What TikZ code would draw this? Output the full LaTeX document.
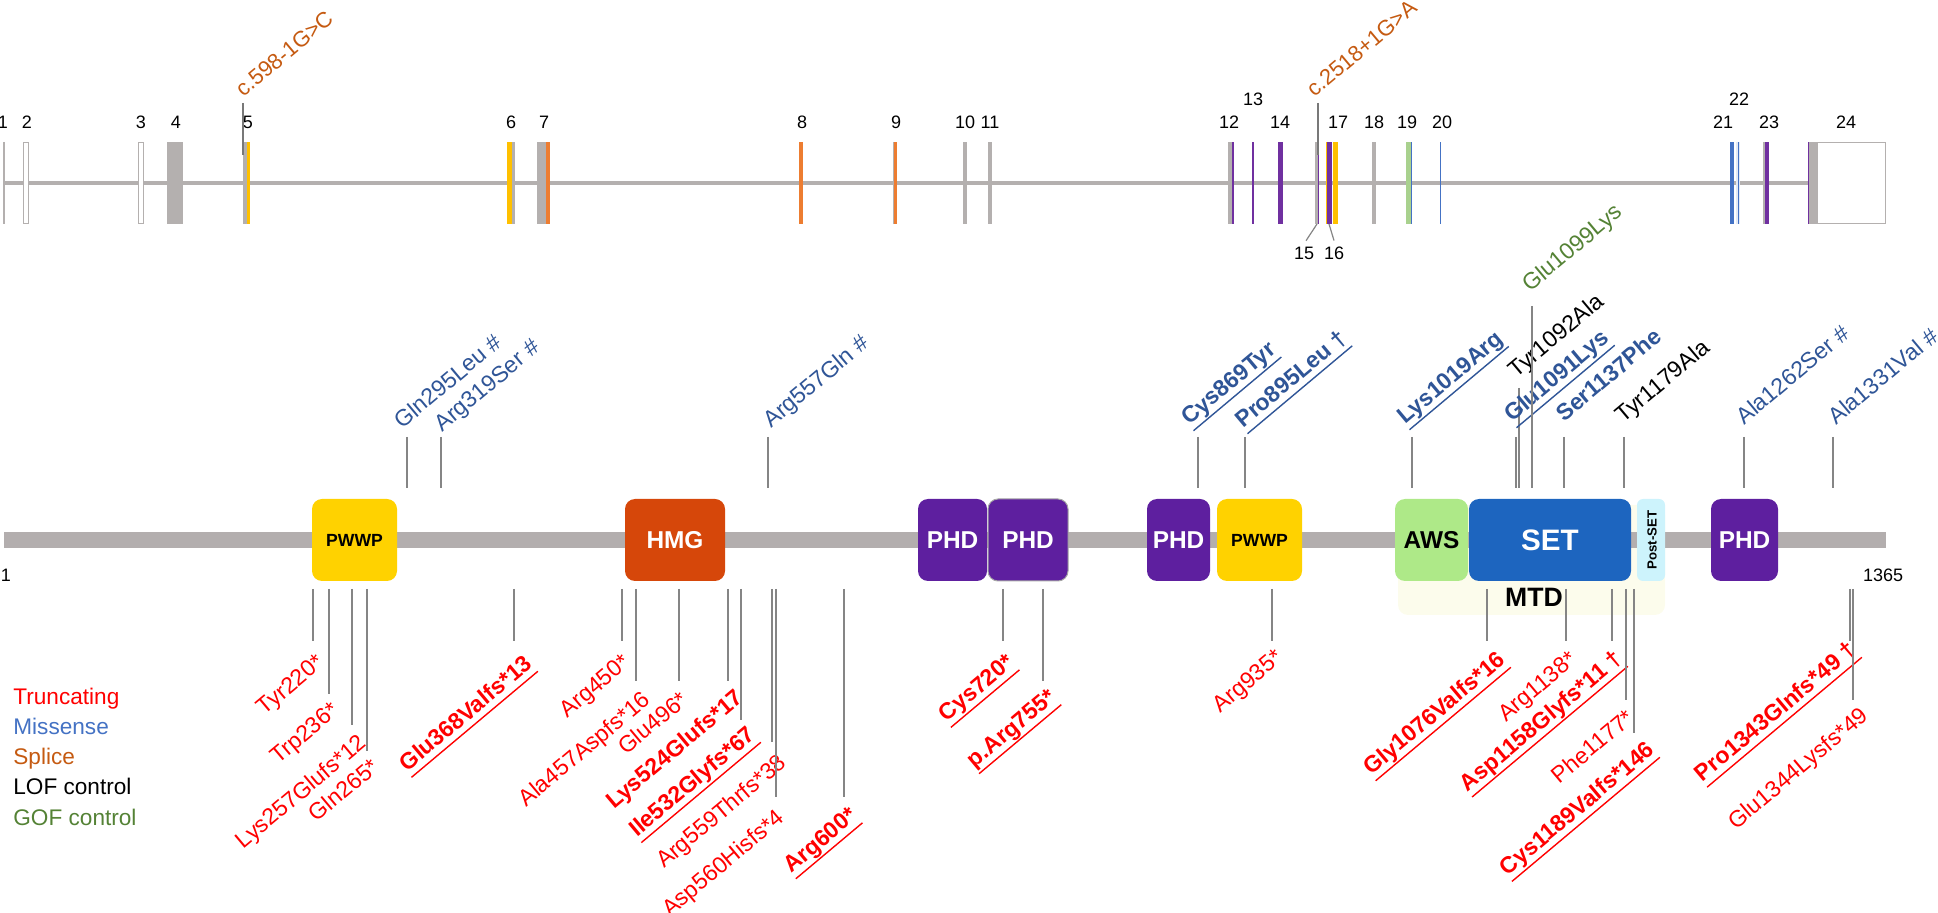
\documentclass[tikz,border=0pt]{standalone}
\usepackage{fontspec}
\setmainfont{Liberation Sans}
\definecolor{mred}{HTML}{FF0000}
\definecolor{tblue}{HTML}{2F5597}
\definecolor{lblue}{HTML}{4472C4}
\definecolor{splc}{HTML}{C55A11}
\definecolor{gofc}{HTML}{548235}
\definecolor{gline}{HTML}{B4B0AF}
\definecolor{pline}{HTML}{B3AEAE}
\definecolor{connc}{HTML}{858585}
\definecolor{pwwpc}{HTML}{FFD200}
\definecolor{hmgc}{HTML}{D6470A}
\definecolor{phdc}{HTML}{5E1F9F}
\definecolor{awsc}{HTML}{AEE988}
\definecolor{setc}{HTML}{1D65BF}
\definecolor{postc}{HTML}{CDF3FC}
\definecolor{mtdc}{HTML}{FCFCEC}
\definecolor{exyel}{HTML}{FFC000}
\definecolor{exora}{HTML}{ED7D31}
\definecolor{expur}{HTML}{7030A0}
\definecolor{exgrn}{HTML}{A9D18E}
\definecolor{exblu}{HTML}{4472C4}
\newcommand\exr[3]{\fill[#3] (#1,142) rectangle (#2,224);}
\newcommand\myul[1]{\setbox0=\hbox{#1}\rlap{\rule[-3.6pt]{\wd0}{0.7pt}}\box0}
\newcommand\botmut[7]{%
  \coordinate (#1a) at (#2,589);
  \coordinate (#1b) at (#2,#3);
  \draw[conn] (#1a) -- (#1b);
  \node[botlab,#6] (#1) at (#4,#5) {#7};}
\newcommand\topmut[7]{%
  \coordinate (#1a) at (#2,#3);
  \coordinate (#1b) at (#2,488);
  \draw[conn] (#1a) -- (#1b);
  \node[toplab,#6] (#1) at ([shift={(6,1)}]#4,#5) {#7};}
\begin{document}
\begin{tikzpicture}[x=0.5pt,y=-0.5pt,
  conn/.style={draw=connc, line width=0.9pt},
  lab/.style={font=\fontsize{11.5}{13}\selectfont},
  boldlab/.style={font=\fontsize{11.5}{13}\selectfont\bfseries},
  botlab/.style={lab, rotate=40, anchor=north east, inner sep=0pt, text=mred},
  toplab/.style={lab, rotate=40, anchor=base west, inner sep=0pt, text=tblue},
  dom/.style={rounded corners=5pt, minimum height=41pt, inner sep=0pt, font=\fontsize{12.2}{14}\selectfont\bfseries, text=white},
  exlab/.style={anchor=base, inner sep=0pt, font=\fontsize{9}{10}\selectfont},
  leg/.style={anchor=base west, inner sep=0pt, font=\fontsize{11.3}{13}\selectfont}
]
\useasboundingbox (0,0) rectangle (1938,913);

% ---------------- gene track ----------------
\coordinate (gs) at (4,183);
\coordinate (ge) at (1808,183);
\draw[gline, line width=1.6pt] (gs) -- (ge);
\draw[gline, line width=1pt] (4,142) -- (4,224);
\draw[gline, line width=0.9pt, fill=white] (23.5,142.5) rectangle (28.5,223.5);
\draw[gline, line width=0.9pt, fill=white] (138.5,142.5) rectangle (143.5,223.5);
\exr{167}{183}{gline}
\exr{243}{247}{gline}\exr{247}{250}{exyel}
\exr{507}{512}{exyel}\exr{512}{514.5}{gline}
\exr{537}{546}{gline}\exr{546}{549.5}{exora}
\exr{799}{803}{exora}
\exr{892.5}{894}{gline}\exr{894}{897}{exora}
\exr{963}{967}{gline}
\exr{988}{992}{gline}
\exr{1228}{1232}{gline}\exr{1232}{1233.5}{expur}
\exr{1252}{1253.5}{expur}
\exr{1278}{1283}{expur}
\exr{1315}{1318}{gline}\fill[expur] (1318,155) rectangle (1319.2,224);
\exr{1326}{1327.2}{exyel}\exr{1327.2}{1332}{expur}
\exr{1333}{1338}{exyel}
\exr{1372}{1376}{gline}
\exr{1406}{1411}{exgrn}\exr{1411}{1412.2}{exblu}
\exr{1440}{1441.2}{exblu}
\exr{1730}{1734}{exblu}\exr{1736}{1740}{exblu!15}\exr{1737.5}{1738.7}{exblu}
\exr{1763}{1765}{gline}\exr{1765}{1769}{expur}
\draw[gline, line width=0.9pt, fill=white] (1817,142.5) rectangle (1885.5,223.5);
\exr{1808}{1817}{gline}\exr{1808}{1809.2}{expur}

% exon numbers
\foreach \n/\x in {1/3,2/27,3/141,4/176,5/248,6/511,7/544,8/802,9/896,10/965,11/990,12/1229,14/1280,17/1338,18/1374,19/1407,20/1442,21/1723,23/1769,24/1846}
  \node[exlab] (ex\n) at (\x,128.5) {\n};
\node[exlab] (ex13) at (1253,105.5) {13};
\node[exlab] (ex22) at (1739,105.5) {22};
\node[exlab] (ex15) at (1304,259.5) {15};
\node[exlab] (ex16) at (1334,259.5) {16};
\coordinate (e15) at (1317,224);
\coordinate (e16) at (1329,224);
\draw[connc, line width=0.6pt] (ex15.north) ++(2,-6) -- (e15);
\draw[connc, line width=0.6pt] (ex16.north) ++(0,-6) -- (e16);

% splice markers
\coordinate (sp1t) at (243,103); \coordinate (sp1b) at (243,155);
\draw[draw=connc!90!black, line width=1pt] (sp1t) -- (sp1b);
\node[font=\fontsize{11}{13}\selectfont, rotate=40, anchor=base west, inner sep=0pt, text=splc] (sp1) at (243,98) {c.598-1G>C};
\coordinate (sp2t) at (1318,103); \coordinate (sp2b) at (1318,155);
\draw[draw=connc!90!black, line width=1pt] (sp2t) -- (sp2b);
\node[font=\fontsize{11}{13}\selectfont, rotate=40, anchor=base west, inner sep=0pt, text=splc] (sp2) at (1314,98) {c.2518+1G>A};

% ---------------- protein track ----------------
\node[fill=mtdc, rounded corners=5pt, minimum width=133.5pt, minimum height=55pt, inner sep=0pt] (mtdbg) at (1531.5,560) {};
\coordinate (ps) at (4,540);
\coordinate (pe) at (1886,540);
\draw[pline, line width=8pt] (ps) -- (pe);
\node[exlab] (pone) at (6,581.5) {1};
\node[exlab] (pend) at (1883,581.5) {1365};

\node[dom, fill=pwwpc, text=black, minimum width=42.5pt, font=\fontsize{8.8}{10}\selectfont\bfseries] (pwwp1) at (354.5,540) {PWWP};
\node[dom, fill=hmgc, minimum width=50pt] (hmg) at (675,540) {HMG};
\node[dom, fill=phdc, minimum width=34.5pt] (phd1) at (952.5,540) {PHD};
\node[dom, fill=phdc, draw=gray!70, line width=0.5pt, minimum width=40pt] (phd2) at (1028,540) {PHD};
\node[dom, fill=phdc, minimum width=31.5pt] (phd3) at (1178.5,540) {PHD};
\node[dom, fill=pwwpc, text=black, minimum width=42.5pt, font=\fontsize{8.8}{10}\selectfont\bfseries] (pwwp2) at (1259.5,540) {PWWP};
\node[dom, fill=awsc, text=black, minimum width=36.5pt] (aws) at (1431.5,540) {AWS};
\node[dom, fill=setc, minimum width=81pt, font=\fontsize{14.8}{16}\selectfont\bfseries] (set) at (1550,540) {SET};
\node[dom, fill=postc, text=black, rounded corners=3pt, minimum width=14pt] (post) at (1651,540) {};
\node[rotate=90, inner sep=0pt, font=\fontsize{6.6}{7}\selectfont\bfseries] (postlab) at (1652,540) {Post-SET};
\node[dom, fill=phdc, minimum width=33.5pt] (phd4) at (1744.5,540) {PHD};
\node[inner sep=0pt, font=\fontsize{13.3}{15}\selectfont\bfseries] (mtd) at (1534,597) {MTD};

% ---------------- top (missense / controls) ----------------
\topmut{gln295}{407}{437}{396}{429}{}{Gln295Leu \#}
\topmut{arg319}{441}{437}{436}{432}{}{Arg319Ser \#}
\topmut{arg557}{768}{437}{765}{428}{}{Arg557Gln \#}
\topmut{cys869}{1198}{437}{1183}{425}{boldlab}{\myul{Cys869Tyr}}
\topmut{pro895}{1245}{437}{1237}{428}{boldlab}{\myul{Pro895Leu †}}
\topmut{lys1019}{1412}{437}{1399}{424}{boldlab}{\myul{Lys1019Arg}}
\topmut{tyr1092}{1519}{388}{1510}{378}{text=black}{Tyr1092Ala}
\topmut{glu1091}{1516}{437}{1506}{422}{boldlab}{\myul{Glu1091Lys}}
\topmut{glu1099}{1532}{306}{1524}{292}{text=gofc}{Glu1099Lys}
\topmut{ser1137}{1564}{437}{1558}{422}{boldlab}{Ser1137Phe}
\topmut{tyr1179}{1624}{437}{1617}{423}{text=black}{Tyr1179Ala}
\topmut{ala1262}{1744}{437}{1738}{425}{}{Ala1262Ser \#}
\topmut{ala1331}{1833}{437}{1830}{425}{}{Ala1331Val \#}

% ---------------- bottom (truncating) ----------------
\botmut{tyr220}{313}{641}{315}{652}{}{Tyr220*}
\botmut{trp236}{329}{694}{330}{700}{}{Trp236*}
\botmut{lys257}{352}{725}{357}{732}{}{Lys257Glufs*12}
\botmut{gln265}{367}{751}{370}{756}{}{Gln265*}
\botmut{glu368}{514}{641}{523}{653}{boldlab}{\myul{Glu368Valfs*13}}
\botmut{arg450}{622}{641}{621}{652}{}{Arg450*}
\botmut{ala457}{636}{681}{641}{689}{}{Ala457Aspfs*16}
\botmut{glu496}{679}{681}{679}{689}{}{Glu496*}
\botmut{lys524}{728}{681}{734}{687}{boldlab}{Lys524Glufs*17}
\botmut{ile532}{741}{720}{746}{724}{boldlab}{\myul{Ile532Glyfs*67}}
\botmut{arg559}{772}{742}{777}{752}{}{Arg559Thrfs*38}
\botmut{asp560}{776}{797}{775}{807}{}{Asp560Hisfs*4}
\botmut{arg600}{844}{797}{848}{805}{boldlab}{\myul{Arg600*}}
\botmut{cys720}{1003}{641}{1005}{652}{boldlab}{\myul{Cys720*}}
\botmut{arg755}{1043}{681}{1047}{687}{boldlab}{\myul{p.Arg755*}}
\botmut{arg935}{1272}{641}{1274}{647}{}{Arg935*}
\botmut{gly1076}{1487}{641}{1496}{649}{boldlab}{\myul{Gly1076Valfs*16}}
\botmut{arg1138}{1566}{641}{1568}{649}{}{Arg1138*}
\botmut{asp1158}{1612}{641}{1613}{648}{boldlab}{\myul{Asp1158Glyfs*11 †}}
\botmut{phe1177}{1626}{700}{1625}{707}{}{Phe1177*}
\botmut{cys1189}{1634}{733}{1645}{739}{boldlab}{\myul{Cys1189Valfs*146}}
\botmut{pro1343}{1850}{641}{1847}{639}{boldlab}{\myul{Pro1343Glnfs*49 †}}
\botmut{glu1344}{1853}{700}{1859}{705}{}{Glu1344Lysfs*49}

% ---------------- legend ----------------
\node[leg, text=mred] (lg1) at (13,705) {Truncating};
\node[leg, text=lblue] (lg2) at (13,735) {Missense};
\node[leg, text=splc] (lg3) at (13,765) {Splice};
\node[leg, text=black] (lg4) at (13,795) {LOF control};
\node[leg, text=gofc] (lg5) at (13,826) {GOF control};
\end{tikzpicture}
\end{document}
